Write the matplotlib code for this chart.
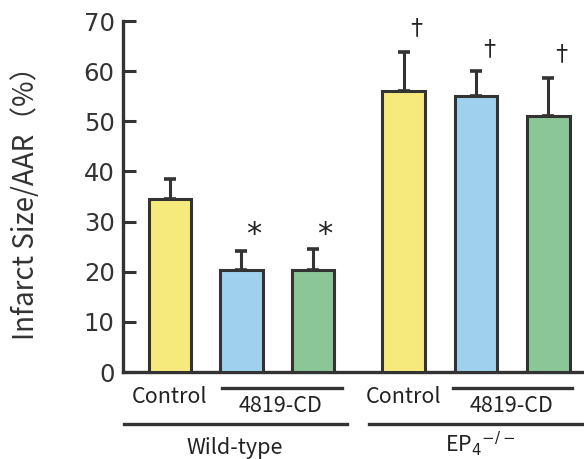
import matplotlib
matplotlib.use("Agg")
import matplotlib.pyplot as plt

# ------------------------------------------------------------------
#  DATA
# ------------------------------------------------------------------
group_labels = ["Wild-type", "EP$_4$$^{-/-}$"]
treatment_labels = ["Control", "4819-CD"]
infarct_mean = [34.5, 20.3, 20.3, 56.0, 55.0, 51.0]
infarct_err = [4.0, 3.8, 4.2, 7.8, 5.0, 7.7]
marks = ["", "*", "*", "\u2020", "\u2020", "\u2020"]
y_ticks = [0, 10, 20, 30, 40, 50, 60, 70]

bar_colors = ["#F7EA7C", "#9FD1EE", "#8BC796", "#F7EA7C", "#9FD1EE", "#8BC796"]
edge_color = "#333333"
positions = [0, 1, 2, 3.27, 4.28, 5.29]

plt.rcParams['font.family'] = ['Noto Sans CJK JP', 'DejaVu Sans']

fig = plt.figure(figsize=(5.84, 4.59), dpi=100)
ax = fig.add_axes([0.2106, 0.1895, 0.7894, 0.7647])

ax.bar(positions, infarct_mean, width=0.6, color=bar_colors,
       edgecolor=edge_color, linewidth=2.2, zorder=3)
ax.errorbar(positions, infarct_mean, yerr=[[0] * 6, infarct_err], fmt='none',
            ecolor=edge_color, elinewidth=2.2, capsize=4, capthick=2.6, zorder=2)

# significance marks
mark_y = [0, 27.5, 27.5, 68.5, 64.2, 63.2]
for x, y, m in zip(positions, mark_y, marks):
    if m == "*":
        ax.text(x + 0.17, y, m, ha='center', va='center', fontsize=22,
                family='DejaVu Sans', color='#222222')
    elif m:
        ax.text(x + 0.18, y, m, ha='center', va='center', fontsize=16,
                color='#222222')

ax.set_xlim(-0.657, 5.79)
ax.set_ylim(0, 70)
ax.set_yticks(y_ticks)
ax.set_xticks([])
ax.tick_params(axis='y', direction='in', length=9, width=2.2,
               color=edge_color, labelsize=17.5, labelcolor='#333333', pad=6)
for lab in ax.get_yticklabels():
    lab.set_family('DejaVu Sans')
for s in ['top', 'right']:
    ax.spines[s].set_visible(False)
for s in ['left', 'bottom']:
    ax.spines[s].set_linewidth(2.4)
    ax.spines[s].set_color(edge_color)
ax.set_ylabel("Infarct Size/AAR\uff08%\uff09", fontsize=20, color='#333333', labelpad=31)

# group annotations below the axis
line_kw = dict(color=edge_color, linewidth=2.4, clip_on=False)
ax.plot([0.727, 2.41], [-3.2, -3.2], **line_kw)
ax.plot([3.96, 5.62], [-3.2, -3.2], **line_kw)
ax.plot([-0.643, 2.48], [-10.4, -10.4], **line_kw)
ax.plot([2.78, 6.0], [-10.4, -10.4], **line_kw)

txt_kw = dict(ha='center', va='center', fontsize=15.5, color='#222222', clip_on=False)
ax.text(0.0, -5.0, treatment_labels[0], **txt_kw)
ax.text(1.55, -6.7, treatment_labels[1], **txt_kw)
ax.text(3.27, -5.0, treatment_labels[0], **txt_kw)
ax.text(4.78, -6.7, treatment_labels[1], **txt_kw)
ax.text(0.9, -15.2, group_labels[0], **txt_kw)
ax.text(4.34, -14.2, group_labels[1], **txt_kw)

fig.savefig("out.png", dpi=100)
